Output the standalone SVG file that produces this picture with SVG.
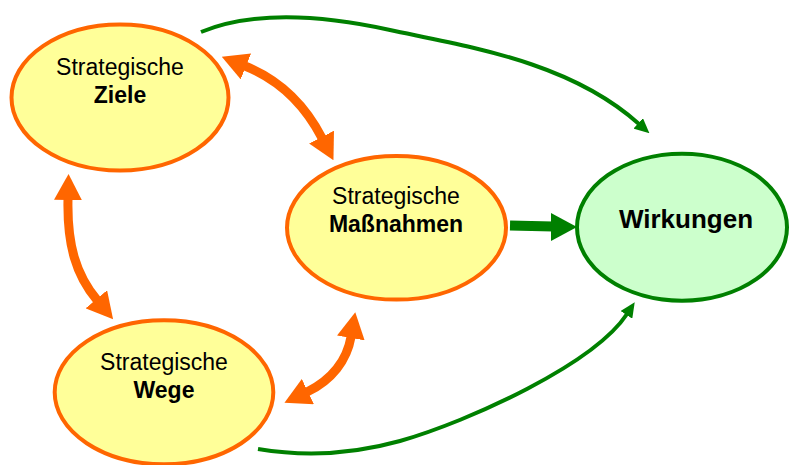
<svg xmlns="http://www.w3.org/2000/svg" width="789" height="465" viewBox="0 0 789 465">
  <style>
    .goal { fill: #FFFF99; stroke: #FF6600; stroke-width: 4; }
    .effect { fill: #CCFFCC; stroke: #008000; stroke-width: 4; }
    text { font-family: "Liberation Sans", Arial, Helvetica, sans-serif; fill: #000; text-anchor: middle; }
    .reg { font-size: 23px; }
    .bold { font-size: 23px; font-weight: bold; }
    .big { font-size: 26px; font-weight: bold; }
    .link2 { fill: none; stroke: #FF6600; stroke-width: 9; marker-start: url(#headOrange); marker-end: url(#headOrange); }
    .flow { fill: none; stroke: #008000; stroke-width: 4; marker-end: url(#headGreen); }
  </style>
  <defs>
    <marker id="headOrange" markerUnits="userSpaceOnUse" viewBox="0 0 26 28" refX="1" refY="14" markerWidth="26" markerHeight="28" orient="auto-start-reverse">
      <path d="M0,0 L26,14 L0,28 Z" fill="#FF6600"/>
    </marker>
    <marker id="headGreen" markerUnits="userSpaceOnUse" viewBox="0 0 15 14" refX="1" refY="7" markerWidth="15" markerHeight="14" orient="auto">
      <path d="M0,0 L15,7 L0,14 Z" fill="#008000"/>
    </marker>
  </defs>

  <!-- connectors -->
  <g id="connectors">
    <!-- Ziele <-> Massnahmen -->
    <path class="link2" d="M245,66 C280,80 305,105 322,138"/>
    <!-- Ziele <-> Wege -->
    <path class="link2" d="M68,199 C67,245 76,275 97,300"/>
    <!-- Massnahmen <-> Wege -->
    <path class="link2" d="M351,337 C347,360 332,380 307,392"/>
    <!-- Ziele -> Wirkungen -->
    <path class="flow" d="M201,32 C235,18 290,8 390,30 C470,47 570,62 639,124"/>
    <!-- Wege -> Wirkungen -->
    <path class="flow" d="M258,449 C300,456 350,455 400,441 C470,421 594,364 627,314"/>
    <!-- Massnahmen -> Wirkungen -->
    <path d="M510,225.5 L553,226.5" stroke="#008000" stroke-width="10" fill="none"/>
    <polygon points="551,213 577,227 551,241" fill="#008000"/>
  </g>

  <g id="ziele">
    <ellipse class="goal" cx="120" cy="97.5" rx="108.5" ry="73"/>
    <text class="reg" x="120" y="75">Strategische</text>
    <text class="bold" x="120" y="103">Ziele</text>
  </g>

  <g id="massnahmen">
    <ellipse class="goal" cx="396.5" cy="227.8" rx="109.5" ry="71.8"/>
    <text class="reg" x="396" y="204">Strategische</text>
    <text class="bold" x="396" y="232">Maßnahmen</text>
  </g>

  <g id="wege">
    <ellipse class="goal" cx="164" cy="392.3" rx="109.3" ry="72"/>
    <text class="reg" x="164" y="370">Strategische</text>
    <text class="bold" x="164" y="398">Wege</text>
  </g>

  <g id="wirkungen">
    <ellipse class="effect" cx="682" cy="227.2" rx="105" ry="73.5"/>
    <text class="big" x="686" y="228">Wirkungen</text>
  </g>
</svg>
